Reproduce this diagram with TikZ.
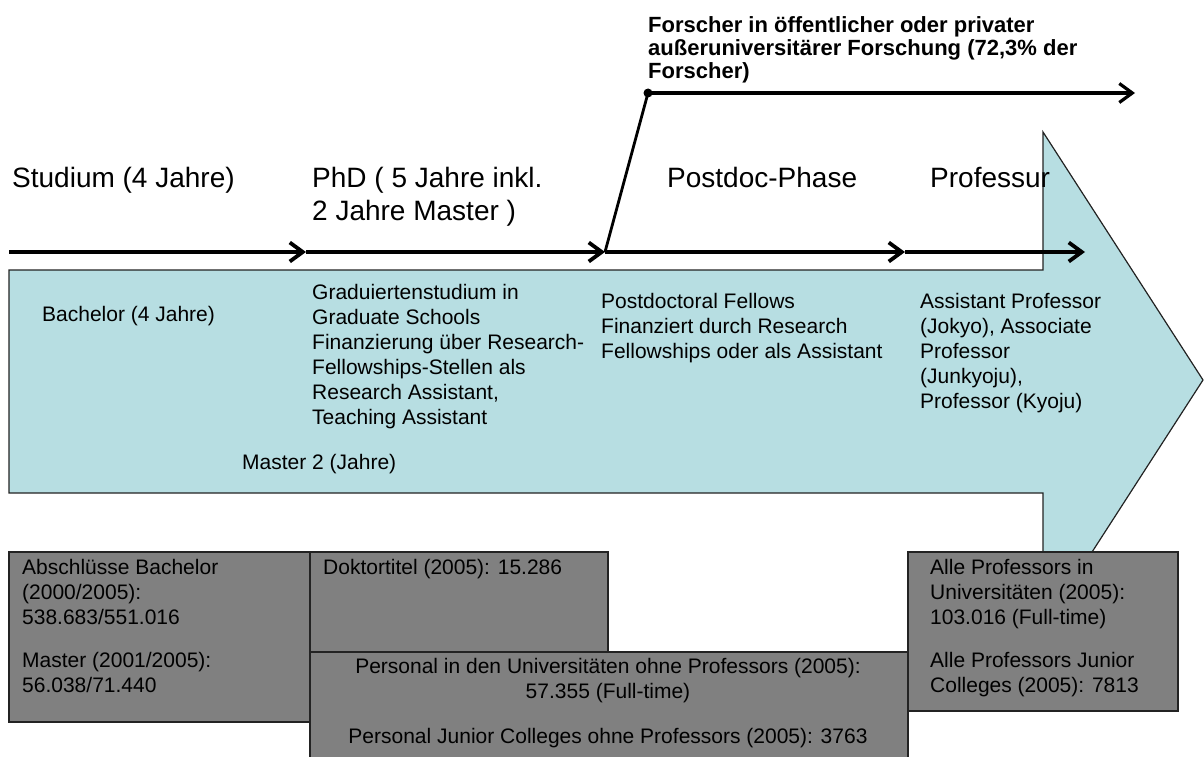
\documentclass[tikz,border=0pt]{standalone}
\usepackage{fontspec}
\setmainfont{Liberation Sans}
\usetikzlibrary{arrows.meta}
\definecolor{arrowblue}{RGB}{183,222,226}
\definecolor{boxgray}{RGB}{128,128,128}
\definecolor{edgegray}{RGB}{35,35,35}
\begin{document}
\begin{tikzpicture}[x=1pt,y=-1pt,
  head/.style={font=\fontsize{28}{33}\selectfont, anchor=base west, inner sep=0pt, align=left},
  body/.style={font=\fontsize{21}{25}\selectfont, anchor=base west, inner sep=0pt, align=left},
  boldtext/.style={font=\fontsize{22}{23}\selectfont\bfseries, anchor=base west, inner sep=0pt, align=left},
  tline/.style={line width=3.8pt, -{Straight Barb[length=13pt,width=19pt]}},
  gbox/.style={draw=edgegray, fill=boxgray, line width=1.6pt, anchor=north west, inner sep=0pt},
  bigarrow/.style={draw=edgegray, fill=arrowblue, line width=1.2pt, line join=miter}
]
\useasboundingbox (0,0) rectangle (1204,757);

% big blue arrow
\draw[bigarrow] (9,270) -- (1043,270) -- (1043,132) -- (1203,380) -- (1043,628) -- (1043,493) -- (9,493) -- cycle;

% headings (anchor = baseline of the last line)
\node[head] (stud) at (12,187) {Studium (4 Jahre)};
\node[head] (phd) at (312,220) {PhD ( 5 Jahre inkl.\\2 Jahre Master )};
\node[head] (post) at (667,187) {Postdoc-Phase};
\node[head] (prof) at (930,187) {Professur};

% top bold text
\node[boldtext] (forsch) at (648,79) {Forscher in öffentlicher oder privater\\außeruniversitärer Forschung (72,3\% der\\Forscher)};

% timeline
\coordinate (t0) at (9,252);
\coordinate (t1) at (306,252);
\coordinate (t2) at (605,252);
\coordinate (t3) at (905,252);
\coordinate (t4) at (1085,252);
\draw[tline] (t0) -- (t1);
\draw[tline] (t1) -- (t2);
\draw[tline] (t2) -- (t3);
\draw[tline] (t3) -- (t4);

% branch to non-university research
\coordinate (b0) at (648,93);
\coordinate (b1) at (1135,93);
\draw[line width=2.8pt] (t2) -- (b0);
\draw[tline, line width=3.2pt] (b0) -- (b1);
\fill (b0) circle (4.5);

% texts inside the arrow
\node[body] (bach) at (42,321) {Bachelor (4 Jahre)};
\node[body] (grad) at (312,424) {Graduiertenstudium in\\Graduate Schools\\Finanzierung über Research-\\Fellowships-Stellen als\\Research Assistant,\\Teaching Assistant};
\node[body] (mast) at (242,469) {Master 2 (Jahre)};
\node[body] (pd) at (601,358) {Postdoctoral Fellows\\Finanziert durch Research\\Fellowships oder als Assistant};
\node[body] (ap) at (920,408) {Assistant Professor\\(Jokyo), Associate\\Professor\\(Junkyoju),\\Professor (Kyoju)};

% grey boxes
\node[gbox, minimum width=301pt, minimum height=170pt] (boxA) at (8,551) {};
\node[gbox, minimum width=298pt, minimum height=100pt] (boxB) at (309,551) {};
\node[gbox, minimum width=598pt, minimum height=130pt] (boxC) at (309,651) {};
\node[gbox, minimum width=270pt, minimum height=159pt] (boxD) at (907,551) {};

\node[body] (txA1) at (22,624) {Abschlüsse Bachelor\\(2000/2005):\\538.683/551.016};
\node[body] (txA2) at (22,692) {Master (2001/2005):\\56.038/71.440};
\node[body] (txB) at (323,574) {Doktortitel (2005): 15.286};
\node[body, anchor=base, align=center] (txC1) at (608,698) {Personal in den Universitäten ohne Professors (2005):\\57.355 (Full-time)};
\node[body, anchor=base, align=center] (txC2) at (608,743) {Personal Junior Colleges ohne Professors (2005): 3763};
\node[body] (txD1) at (930,624) {Alle Professors in\\Universitäten (2005):\\103.016 (Full-time)};
\node[body] (txD2) at (930,692) {Alle Professors Junior\\Colleges (2005): 7813};
\end{tikzpicture}
\end{document}
